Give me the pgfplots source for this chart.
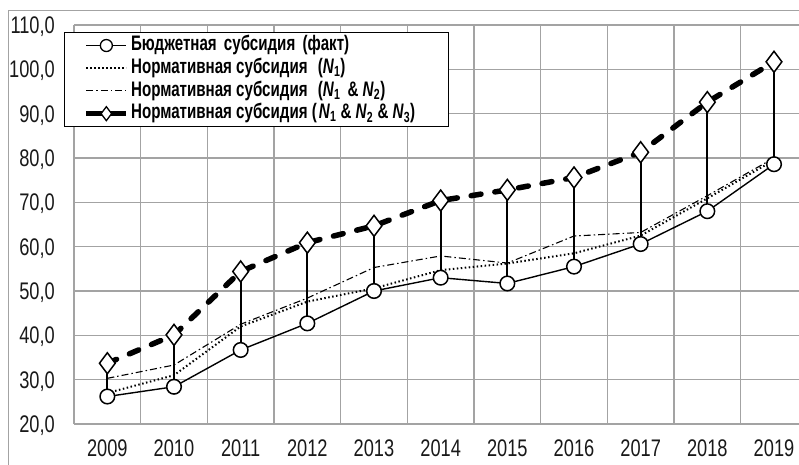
\documentclass[border=0pt]{standalone}
\usepackage{pgfplots}
\pgfplotsset{compat=1.18}
\usepackage{fontspec}
\setmainfont{Liberation Sans}[FakeStretch=0.72]
\newfontfamily\tickfont{Liberation Sans}[FakeStretch=0.76]
\definecolor{gridc}{HTML}{A3A3A3}
\begin{document}
\begin{tikzpicture}
\useasboundingbox (0,0) rectangle (799bp,465bp);
\draw[gridc, line width=1bp] (8bp,0bp) -- (8bp,454bp) -- (799bp,454bp);
\begin{axis}[
  at={(74bp,41bp)}, anchor=south west,
  scale only axis, width=725bp, height=399bp,
  xmin=-0.5, xmax=10.375, ymin=20, ymax=110,
  axis lines=left,
  axis line style={-, gridc, line width=1.2bp},
  xtick={0,...,10},
  xticklabels={2009,2010,2011,2012,2013,2014,2015,2016,2017,2018,2019},
  minor xtick={0.5,1.5,...,9.5},
  ytick={20,30,...,110},
  major tick length=0pt, minor tick length=0pt,
  xmajorgrids=false, xminorgrids=true, ymajorgrids=true,
  grid style={gridc, line width=1.2bp},
  minor grid style={gridc, line width=1.2bp},
  ticklabel style={font=\tickfont\fontsize{24bp}{28bp}\selectfont, text=black!90, inner sep=0pt},
  xticklabel style={anchor=north, yshift=-16bp},
  yticklabel style={anchor=base east, xshift=-19bp, yshift=-8.5bp},
  /pgf/number format/.cd, fixed, fixed zerofill, precision=1, use comma, assume math mode=true,
  /pgfplots/.cd,
  unbounded coords=jump,
  legend style={at={(-0.0138,0.982)}, anchor=north west, draw=black, line width=1.2bp, fill=white,
    font=\fontsize{21bp}{25bp}\selectfont\bfseries,
    inner xsep=19bp, inner ysep=2bp, row sep=1.2bp,
    nodes={inner xsep=2bp, inner ysep=1bp, text height=15bp, text depth=4.5bp},
    cells={anchor=west}},
  legend image code/.code={
    \draw[mark repeat=2, mark phase=2, #1] plot coordinates {(0bp,0bp) (20bp,0bp) (40bp,0bp)};
  },
]
% drop lines
\addplot[black, line width=2bp, forget plot] coordinates {
 (0,26.2) (0,33.7) (0,nan)
 (1,28.4) (1,40.1) (1,nan)
 (2,36.7) (2,54.4) (2,nan)
 (3,42.7) (3,60.9) (3,nan)
 (4,50.0) (4,64.7) (4,nan)
 (5,53.0) (5,70.4) (5,nan)
 (6,51.7) (6,72.8) (6,nan)
 (7,55.5) (7,75.6) (7,nan)
 (8,60.6) (8,81.3) (8,nan)
 (9,68.0) (9,92.6) (9,nan)
 (10,78.6) (10,101.7)
};
% N1 & N2
\addplot[black, line width=1.1bp, dash pattern=on 7bp off 3bp on 1.5bp off 3bp, forget plot] coordinates {
 (0,30.3) (1,33.3) (2,42.5) (3,48.4) (4,55.3) (5,57.9) (6,56.3) (7,62.4) (8,63.2) (9,71.5) (10,80.0)
};
% N1
\addplot[black, line width=2bp, dash pattern=on 1.5bp off 2.5bp, forget plot] coordinates {
 (0,27.0) (1,31.0) (2,42.0) (3,47.6) (4,50.6) (5,54.7) (6,56.2) (7,58.5) (8,62.5) (9,70.9) (10,79.5)
};
% fact
\addplot[black, line width=1.4bp, mark=*, mark size=7.3bp, mark options={fill=white, line width=1.5bp}, forget plot] coordinates {
 (0,26.2) (1,28.4) (2,36.7) (3,42.7) (4,50.0) (5,53.0) (6,51.7) (7,55.5) (8,60.6) (9,68.0) (10,78.6)
};
% N1 & N2 & N3
\addplot[black, line width=5.5bp, line cap=round, dash pattern=on 10bp off 14bp, mark=diamond*, mark size=10.5bp,
  mark options={solid, fill=white, line width=1.5bp, line cap=butt}, forget plot] coordinates {
 (0,33.7) (1,40.1) (2,54.4) (3,60.9) (4,64.7) (5,70.4) (6,72.8) (7,75.6) (8,81.3) (9,92.6) (10,101.7)
};
% legend
\addlegendimage{black, line width=1.4bp, mark=*, mark size=6bp, mark options={fill=white, line width=1.3bp}}
\addlegendentry{Бюджетная\hspace{3bp} субсидия\hspace{3bp} (факт)}
\addlegendimage{black, line width=2bp, dash pattern=on 1.5bp off 2.5bp}
\addlegendentry{Нормативная субсидия\hspace{6bp} (\textit{N}\textsubscript{1})}
\addlegendimage{black, line width=1.1bp, dash pattern=on 7bp off 3bp on 1.5bp off 3bp}
\addlegendentry{Нормативная субсидия\hspace{6bp} (\textit{N}\textsubscript{1}\hspace{3bp} \& \textit{N}\textsubscript{2})}
\addlegendimage{black, line width=5.5bp, mark=diamond*, mark size=7bp, mark options={fill=white, line width=1.3bp}}
\addlegendentry{Нормативная субсидия (\hspace{2bp}\textit{N}\textsubscript{1} \& \textit{N}\textsubscript{2} \& \textit{N}\textsubscript{3})\rule{12bp}{0pt}}
\end{axis}
\end{tikzpicture}
\end{document}
